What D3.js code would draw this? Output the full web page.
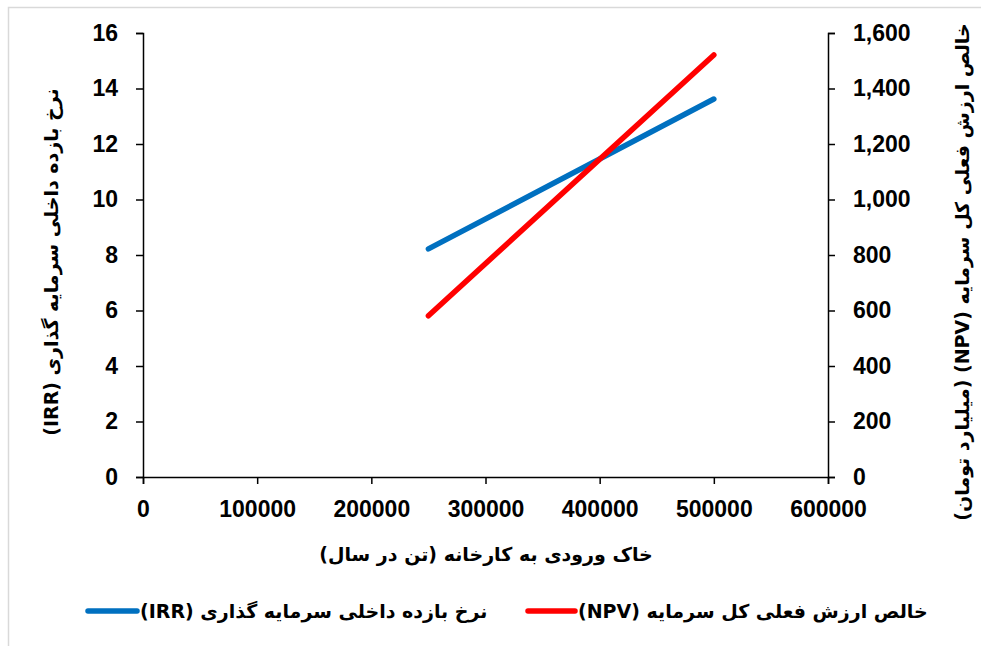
<!DOCTYPE html>
<html>
<head>
<meta charset="utf-8">
<script src="https://cdn.jsdelivr.net/npm/d3@7"></script>
<style>
  html, body { margin: 0; padding: 0; background: #fff; }
  svg { display: block; }
  .tick text { font-family: "Liberation Sans", Arial, sans-serif; font-weight: bold; font-size: 23px; fill: #000; }
  .fa { font-family: "DejaVu Sans", sans-serif; font-weight: bold; fill: #000; }
</style>
</head>
<body>
<svg id="chart" width="981" height="646"></svg>
<script>
// Soil input to the plant (tonnes per year)
const xValues = [250000, 500000];
// Internal rate of return (%)
const irrValues = [8.22, 13.62];
// Net present value (billion toman)
const npvValues = [581, 1521];

const xTicks = [0, 100000, 200000, 300000, 400000, 500000, 600000];
const leftTicks = [0, 2, 4, 6, 8, 10, 12, 14, 16];
const rightTicks = [0, 200, 400, 600, 800, 1000, 1200, 1400, 1600];

const xTitle = "خاک ورودی به کارخانه (تن در سال)";
const leftTitle = "نرخ بازده داخلی سرمایه گذاری (IRR)";
const rightTitle = "خالص ارزش فعلی کل سرمایه (NPV) (میلیارد تومان)";
const irrLegend = "نرخ بازده داخلی سرمایه گذاری  (IRR)";
const npvLegend = "خالص ارزش فعلی کل سرمایه  (NPV)";

const svg = d3.select("#chart");

// outer frame
svg.append("rect")
  .attr("x", 8.5).attr("y", 7.5)
  .attr("width", 1000).attr("height", 700)
  .attr("fill", "none").attr("stroke", "#d9d9d9").attr("stroke-width", 1.5);

const x = d3.scaleLinear().domain([0, 600000]).range([143, 828]);
const yL = d3.scaleLinear().domain([0, 16]).range([477, 33]);
const yR = d3.scaleLinear().domain([0, 1600]).range([477, 33]);

function styleAxis(g) {
  g.select(".domain").attr("stroke", "#000").attr("stroke-width", 1.5);
  g.selectAll(".tick line").attr("stroke", "#000").attr("stroke-width", 1.5);
}

svg.append("g")
  .attr("transform", "translate(0,477)")
  .call(d3.axisBottom(x).tickValues(xTicks).tickFormat(d3.format("d")).tickSizeOuter(0).tickSize(7).tickPadding(17))
  .call(styleAxis);

svg.append("g")
  .attr("transform", "translate(143,0)")
  .call(d3.axisLeft(yL).tickValues(leftTicks).tickFormat(d3.format("d")).tickSizeOuter(0).tickSize(7).tickPadding(18))
  .call(styleAxis);

svg.append("g")
  .attr("transform", "translate(828,0)")
  .call(d3.axisRight(yR).tickValues(rightTicks).tickFormat(d3.format(",")).tickSizeOuter(0).tickSize(7).tickPadding(18))
  .call(styleAxis);

// series lines
const irrLine = d3.line().x((d, i) => x(xValues[i])).y(d => yL(d));
const npvLine = d3.line().x((d, i) => x(xValues[i])).y(d => yR(d));

svg.append("path").datum(irrValues)
  .attr("d", irrLine).attr("fill", "none")
  .attr("stroke", "#0070C0").attr("stroke-width", 5.5).attr("stroke-linecap", "round");

svg.append("path").datum(npvValues)
  .attr("d", npvLine).attr("fill", "none")
  .attr("stroke", "#FF0000").attr("stroke-width", 5.5).attr("stroke-linecap", "round");

// axis titles
svg.append("text").attr("class", "fa")
  .attr("x", 486).attr("y", 561)
  .attr("text-anchor", "middle").attr("direction", "rtl")
  .style("font-size", "19px")
  .text(xTitle);

svg.append("text").attr("class", "fa")
  .attr("transform", "translate(58,262) rotate(-90)")
  .attr("text-anchor", "middle").attr("direction", "rtl")
  .style("font-size", "19px")
  .text(leftTitle);

svg.append("text").attr("class", "fa")
  .attr("transform", "translate(969,272) rotate(-90)")
  .attr("text-anchor", "middle").attr("direction", "rtl")
  .style("font-size", "19px")
  .text(rightTitle);

// legend
const legend = [
  { color: "#0070C0", label: irrLegend, x1: 88, x2: 137, tx: 140 },
  { color: "#FF0000", label: npvLegend, x1: 528, x2: 575, tx: 578 }
];
legend.forEach(l => {
  svg.append("line")
    .attr("x1", l.x1).attr("x2", l.x2).attr("y1", 611).attr("y2", 611)
    .attr("stroke", l.color).attr("stroke-width", 5.5).attr("stroke-linecap", "round");
  svg.append("text").attr("class", "fa")
    .attr("x", l.tx).attr("y", 618)
    .attr("text-anchor", "end").attr("direction", "rtl")
    .style("font-size", "19px")
    .text(l.label);
});
</script>
</body>
</html>
